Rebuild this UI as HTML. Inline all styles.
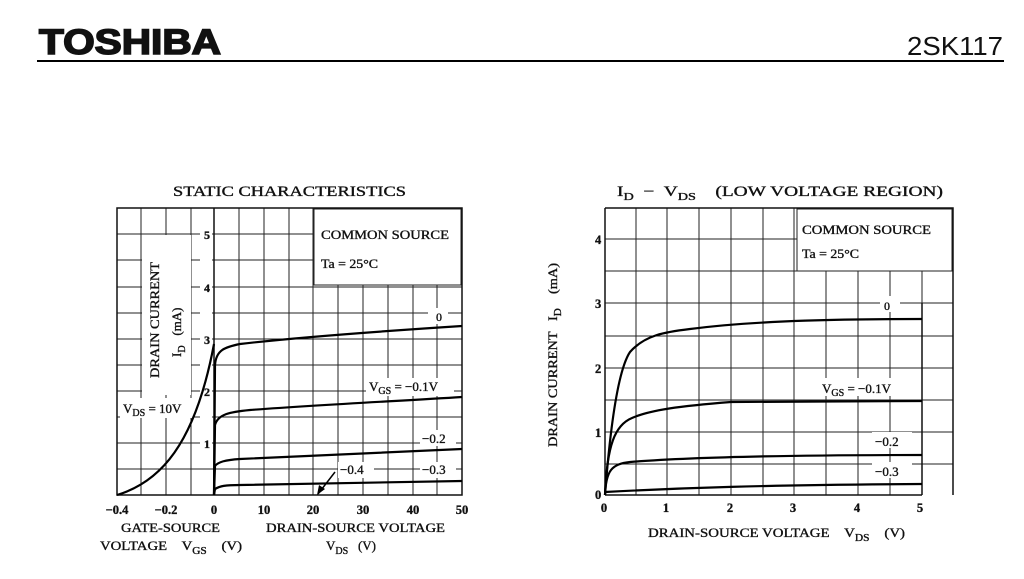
<!DOCTYPE html>
<html><head><meta charset="utf-8"><style>
html,body{margin:0;padding:0;background:#fff;}
svg{display:block}
text{font-family:"Liberation Serif",serif;fill:#111;stroke:#111;stroke-width:0.35px;white-space:pre;}
</style></head><body>
<svg width="1024" height="579" viewBox="0 0 1024 579" xmlns="http://www.w3.org/2000/svg" xml:space="preserve">
<rect width="1024" height="579" fill="#fff"/>
<!-- header -->
<text x="39" y="54" style="font-family:'Liberation Sans',sans-serif;font-weight:900;font-size:35px;stroke-width:1.6px" textLength="182" lengthAdjust="spacingAndGlyphs">TOSHIBA</text>
<text x="1003" y="55" text-anchor="end" style="font-family:'Liberation Sans',sans-serif;font-size:26px;stroke-width:0" textLength="96" lengthAdjust="spacingAndGlyphs">2SK117</text>
<rect x="37" y="60" width="967" height="2" fill="#000"/>

<!-- LEFT CHART -->
<text x="173" y="196" font-size="15" textLength="233" lengthAdjust="spacingAndGlyphs">STATIC CHARACTERISTICS</text>
<g stroke="#222" stroke-width="1">
<line x1="141" y1="208" x2="141" y2="495"/><line x1="166" y1="208" x2="166" y2="495"/><line x1="191" y1="208" x2="191" y2="495"/>
<line x1="239" y1="208" x2="239" y2="495"/><line x1="264" y1="208" x2="264" y2="495"/><line x1="289" y1="208" x2="289" y2="495"/><line x1="313" y1="208" x2="313" y2="495"/><line x1="338" y1="208" x2="338" y2="495"/><line x1="363" y1="208" x2="363" y2="495"/><line x1="388" y1="208" x2="388" y2="495"/><line x1="413" y1="208" x2="413" y2="495"/><line x1="437" y1="208" x2="437" y2="495"/>
<line x1="117" y1="234" x2="462" y2="234"/><line x1="117" y1="260" x2="462" y2="260"/><line x1="117" y1="287" x2="462" y2="287"/><line x1="117" y1="313" x2="462" y2="313"/><line x1="117" y1="339" x2="462" y2="339"/><line x1="117" y1="365" x2="462" y2="365"/><line x1="117" y1="391" x2="462" y2="391"/><line x1="117" y1="417" x2="462" y2="417"/><line x1="117" y1="443" x2="462" y2="443"/><line x1="117" y1="469" x2="462" y2="469"/>
</g>
<rect x="314" y="209" width="147" height="76" fill="#fff" stroke="#222" stroke-width="1"/>
<rect x="142" y="235" width="49" height="160" fill="#fff"/>
<rect x="200" y="226" width="12" height="228" fill="#fff"/>
<rect x="120" y="398" width="74" height="20" fill="#fff"/>
<rect x="366" y="378" width="88" height="18" fill="#fff"/>
<rect x="428" y="308" width="20" height="16" fill="#fff"/>
<rect x="420" y="430" width="36" height="16" fill="#fff"/>
<rect x="420" y="462" width="36" height="16" fill="#fff"/>
<rect x="338" y="462" width="36" height="16" fill="#fff"/>
<rect x="117" y="208" width="345" height="287" fill="none" stroke="#111" stroke-width="1.5"/>
<line x1="214" y1="208" x2="214" y2="495" stroke="#111" stroke-width="1.5"/>
<g font-size="12" font-weight="bold">
<text x="204" y="239">5</text><text x="204" y="292">4</text><text x="204" y="344">3</text><text x="204" y="396">2</text><text x="204" y="448">1</text>
</g>
<text x="321" y="239" font-size="12.5" textLength="128" lengthAdjust="spacingAndGlyphs">COMMON SOURCE</text>
<text x="321" y="268" font-size="12.5" textLength="57" lengthAdjust="spacingAndGlyphs">Ta = 25°C</text>
<text transform="translate(159,378) rotate(-90)" font-size="13" textLength="116" lengthAdjust="spacingAndGlyphs">DRAIN CURRENT</text>
<text transform="translate(181,357) rotate(-90)" font-size="13">I<tspan font-size="10" dy="4">D</tspan><tspan dy="-4">   (mA)</tspan></text>
<text x="123" y="413" font-size="13">V<tspan font-size="10" dy="3">DS</tspan><tspan dy="-3"> = 10V</tspan></text>
<text x="436" y="321" font-size="12">0</text>
<text x="369" y="391" font-size="13">V<tspan font-size="10" dy="3">GS</tspan><tspan dy="-3"> = −0.1V</tspan></text>
<text x="422" y="443" font-size="13">−0.2</text>
<text x="422" y="474" font-size="13">−0.3</text>
<text x="340" y="474" font-size="13">−0.4</text>
<g fill="none" stroke="#000" stroke-width="2.2">
<path d="M117,495 C160,482 195,445 214,344"/>
<path d="M214,495 L215,365 C216,350 225,347 240,344 C300,337 400,330 462,326"/>
<path d="M214,495 L215,425 C218,414 230,412 250,410 C330,404 400,401 462,397"/>
<path d="M214,495 L215,466 C218,462 225,460 240,459 C330,455 400,452 462,449"/>
<path d="M214,495 L215,489 C220,486 225,485 240,485 C330,483 400,482 462,481"/>
</g>
<line x1="335" y1="472" x2="318" y2="494" stroke="#000" stroke-width="1.5"/>
<polygon points="317,495 319,485 325,489" fill="#000"/>
<g font-size="12.5" font-weight="bold" text-anchor="middle">
<text x="117" y="514">−0.4</text><text x="166" y="514">−0.2</text><text x="214" y="514">0</text><text x="264" y="514">10</text><text x="313" y="514">20</text><text x="363" y="514">30</text><text x="413" y="514">40</text><text x="462" y="514">50</text>
</g>
<text x="121" y="532" font-size="13" textLength="99" lengthAdjust="spacingAndGlyphs">GATE-SOURCE</text>
<text x="100" y="550" font-size="13" textLength="142" lengthAdjust="spacingAndGlyphs">VOLTAGE    V<tspan font-size="10" dy="4">GS</tspan><tspan dy="-4">    (V)</tspan></text>
<text x="266" y="532" font-size="13" textLength="179" lengthAdjust="spacingAndGlyphs">DRAIN-SOURCE VOLTAGE</text>
<text x="326" y="550" font-size="13">V<tspan font-size="10" dy="4">DS</tspan><tspan dy="-4">   (V)</tspan></text>

<!-- RIGHT CHART -->
<text x="617" y="196" font-size="15" textLength="326" lengthAdjust="spacingAndGlyphs">I<tspan font-size="11" dy="4">D</tspan><tspan dy="-4">  −  V</tspan><tspan font-size="11" dy="4">DS</tspan><tspan dy="-4">    (LOW VOLTAGE REGION)</tspan></text>
<g stroke="#222" stroke-width="1">
<line x1="636" y1="208" x2="636" y2="495"/><line x1="667" y1="208" x2="667" y2="495"/><line x1="699" y1="208" x2="699" y2="495"/><line x1="731" y1="208" x2="731" y2="495"/><line x1="763" y1="208" x2="763" y2="495"/><line x1="794" y1="208" x2="794" y2="495"/><line x1="826" y1="208" x2="826" y2="495"/><line x1="858" y1="208" x2="858" y2="495"/><line x1="890" y1="208" x2="890" y2="495"/><line x1="922" y1="208" x2="922" y2="495"/>
<line x1="605" y1="239" x2="953" y2="239"/><line x1="605" y1="271" x2="953" y2="271"/><line x1="605" y1="303" x2="953" y2="303"/><line x1="605" y1="336" x2="953" y2="336"/><line x1="605" y1="368" x2="953" y2="368"/><line x1="605" y1="400" x2="953" y2="400"/><line x1="605" y1="432" x2="953" y2="432"/><line x1="605" y1="464" x2="953" y2="464"/>
</g>
<rect x="797" y="209" width="155" height="62" fill="#fff" stroke="#222" stroke-width="1"/>
<rect x="820" y="378" width="90" height="18" fill="#fff"/>
<rect x="880" y="296" width="20" height="16" fill="#fff"/>
<rect x="872" y="432" width="40" height="16" fill="#fff"/>
<rect x="872" y="462" width="40" height="16" fill="#fff"/>
<rect x="923" y="302" width="29" height="192" fill="#fff"/>
<line x1="922" y1="303" x2="953" y2="303" stroke="#222"/><line x1="922" y1="400" x2="953" y2="400" stroke="#222"/><line x1="922" y1="336" x2="953" y2="336" stroke="#222"/><line x1="922" y1="368" x2="953" y2="368" stroke="#222"/><line x1="922" y1="432" x2="953" y2="432" stroke="#222"/><line x1="922" y1="464" x2="953" y2="464" stroke="#222"/>
<polyline points="605,208 953,208 953,495" fill="none" stroke="#111" stroke-width="1.5"/>
<line x1="605" y1="208" x2="605" y2="495" stroke="#111" stroke-width="1.5"/>
<line x1="605" y1="495" x2="922" y2="495" stroke="#111" stroke-width="1.5"/>
<line x1="922" y1="303" x2="922" y2="495" stroke="#111" stroke-width="1.5"/>
<g font-size="12.5" font-weight="bold">
<text x="595" y="244">4</text><text x="595" y="308">3</text><text x="595" y="373">2</text><text x="595" y="437">1</text><text x="595" y="499">0</text>
</g>
<text x="802" y="234" font-size="12.5" textLength="129" lengthAdjust="spacingAndGlyphs">COMMON SOURCE</text>
<text x="802" y="258" font-size="12.5" textLength="57" lengthAdjust="spacingAndGlyphs">Ta = 25°C</text>
<text transform="translate(557,447) rotate(-90)" font-size="13" textLength="184" lengthAdjust="spacingAndGlyphs">DRAIN CURRENT   I<tspan font-size="10" dy="4">D</tspan><tspan dy="-4">    (mA)</tspan></text>
<text x="884" y="310" font-size="12">0</text>
<text x="822" y="393" font-size="13">V<tspan font-size="10" dy="3">GS</tspan><tspan dy="-3"> = −0.1V</tspan></text>
<text x="875" y="446" font-size="13">−0.2</text>
<text x="875" y="476" font-size="13">−0.3</text>
<g fill="none" stroke="#000" stroke-width="2.2">
<path d="M605,495 C610,430 618,370 630,352 C645,335 665,332 690,329 C760,320 850,319 922,319"/>
<path d="M605,495 C607,445 615,425 632,418 C650,410 680,406 731,402 L922,401"/>
<path d="M605,495 C606,470 612,464 630,462 C680,458 760,455 922,455"/>
<path d="M605,492 C680,488 760,485 922,484"/>
</g>
<g font-size="12.5" font-weight="bold" text-anchor="middle">
<text x="604" y="512">0</text><text x="666" y="512">1</text><text x="730" y="512">2</text><text x="793" y="512">3</text><text x="857" y="512">4</text><text x="920" y="512">5</text>
</g>
<text x="648" y="537" font-size="13" textLength="257" lengthAdjust="spacingAndGlyphs">DRAIN-SOURCE VOLTAGE    V<tspan font-size="10" dy="4">DS</tspan><tspan dy="-4">    (V)</tspan></text>
</svg>
</body></html>
